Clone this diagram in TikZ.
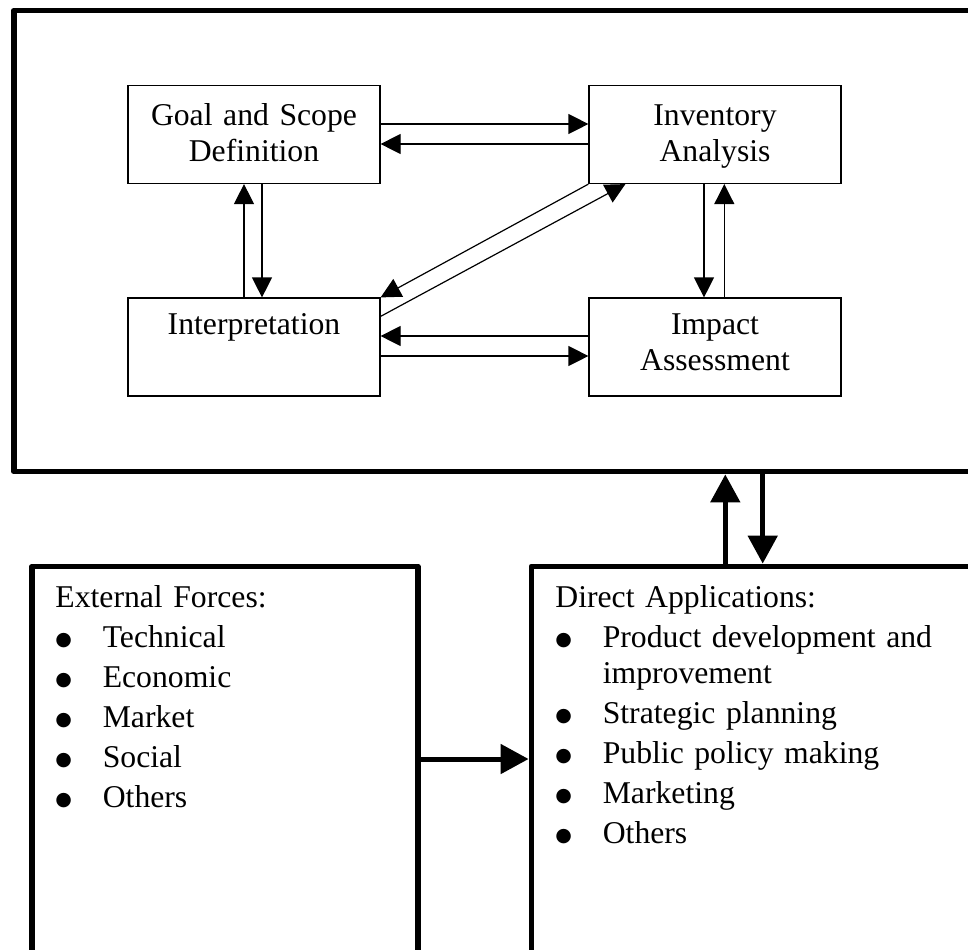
\documentclass[tikz,border=0pt]{standalone}
\usepackage{fontspec}
\setmainfont{Liberation Serif}
\newfontfamily\dotfont{DejaVu Sans}
\usetikzlibrary{arrows.meta,positioning}
\newcommand{\itm}[1]{\makebox[23.7pt][l]{\raisebox{1.3pt}{\dotfont\fontsize{9.5}{9.5}\selectfont ●}}#1}

\begin{document}
\begin{tikzpicture}[x=0.5pt,y=-0.5pt,
		stage/.style={draw, line width=0.6pt, minimum width=126pt, minimum height=49pt, inner sep=0pt},
		stagetext/.style={text width=124pt, align=center, inner sep=0pt, font=\fontsize{15.85}{17.8}\selectfont},
		bigbox/.style={draw, line width=2.7pt, line join=round, inner sep=0pt},
		listtext/.style={text width=220pt, align=left, inner sep=0pt, font=\fontsize{15.85}{18}\selectfont},
		flow/.style={line width=0.6pt, -{Triangle[length=10pt,width=10pt]}},
		bigflow/.style={line width=2.5pt, -{Triangle[length=14pt,width=14.5pt]}}]
			\useasboundingbox (0,0) rectangle (968,949);
			
			% Cadre ACV
			\node[bigbox, minimum width=493pt, minimum height=230.7pt] (lca) at (506.9,241) {};
			
			% Etapes
			\node[stage] (goal) at (254,134.5) {};
			\node[stage] (inv) at (715,134.5) {};
			\node[stage] (interp) at (254,347) {};
			\node[stage] (impact) at (715,347) {};
			\node[stagetext, anchor=base] (goaltxt) at ([yshift=-20.5pt]goal.north) {Goal and Scope\\Definition};
			\node[stagetext, anchor=base] (invtxt) at ([yshift=-20.5pt]inv.north) {Inventory\\Analysis};
			\node[stagetext, anchor=base] (interptxt) at ([yshift=-18.65pt]interp.north) {Interpretation};
			\node[stagetext, anchor=base] (impacttxt) at ([yshift=-18.65pt]impact.north) {Impact\\Assessment};
			
			% Liens entre etapes
			\draw[flow] ([yshift=5.25pt]goal.east) -- ([yshift=5.25pt]inv.west);
			\draw[flow] ([yshift=-4.75pt]inv.west) -- ([yshift=-4.75pt]goal.east);
			\draw[flow] ([xshift=4pt]goal.south) -- ([xshift=4pt]interp.north);
			\draw[flow] ([xshift=-5pt]interp.north) -- ([xshift=-5pt]goal.south);
			\draw[flow] ([xshift=-5.5pt]inv.south) -- ([xshift=-5.5pt]impact.north);
			\draw[flow] ([xshift=4.65pt]impact.north) -- ([xshift=4.65pt]inv.south);
			\draw[flow] ([yshift=5.5pt]impact.west) -- ([yshift=5.5pt]interp.east);
			\draw[flow] ([yshift=-4.5pt]interp.east) -- ([yshift=-4.5pt]impact.west);
			\draw[flow] (inv.south west) -- (interp.north east);
			\draw[flow] ([yshift=-9.5pt]interp.north east) -- ([xshift=18.5pt]inv.south west);
			
			% Boites du bas
			\node[bigbox, minimum width=193pt, minimum height=216.9pt] (ext) at (225,783.2) {};
			\node[bigbox, minimum width=234.4pt, minimum height=216.9pt] (direct) at (765.7,783.2) {};
			\node[listtext, anchor=base west] (forces) at (55,607.7) {External Forces:\\[2pt]
				\itm{Technical}\\[2pt]\itm{Economic}\\[2pt]\itm{Market}\\[2pt]\itm{Social}\\[2pt]\itm{Others}};
			\node[listtext, anchor=base west] (apps) at (555,607.7) {Direct Applications:\\[2pt]
				\itm{Product development and}\\\hspace*{23.7pt}improvement\\[2pt]
				\itm{Strategic planning}\\[2pt]\itm{Public policy making}\\[2pt]\itm{Marketing}\\[2pt]\itm{Others}};
			
			% Fleches epaisses
			\coordinate (upfoot) at ([xshift=98.35pt]direct.north west);
			\coordinate (downfoot) at ([xshift=117.05pt]direct.north west);
			\coordinate (feed) at ([yshift=-97.7pt]ext.north east);
			\draw[bigflow] (upfoot) -- (upfoot |- lca.south);
			\draw[bigflow] (downfoot |- lca.south) -- (downfoot);
			\draw[bigflow] (feed) -- (feed -| direct.west);
		\end{tikzpicture}
\end{document}
